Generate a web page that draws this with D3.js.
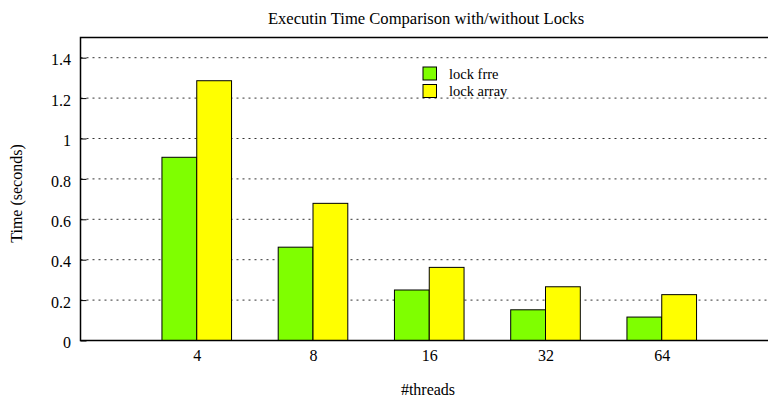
<!DOCTYPE html>
<html><head><meta charset="utf-8">
<script src="https://cdn.jsdelivr.net/npm/d3@7"></script>
<style>body{margin:0;background:#fff;}</style>
</head><body><svg id="c" width="768" height="398" font-family="Liberation Serif"></svg>
<script>
const categories = ["4", "8", "16", "32", "64"];
const lockFree = [0.907, 0.462, 0.25, 0.152, 0.116];
const lockArray = [1.286, 0.679, 0.362, 0.266, 0.227];
const seriesNames = ["lock frre", "lock array"];
const seriesColors = ["#7fff00", "#ffff00"];
const yTicks = [0, 0.2, 0.4, 0.6, 0.8, 1, 1.2, 1.4];

const FONT = "Liberation Serif";
const svg = d3.select("#c");
const L = 80.5, T = 37.5, B = 340.5, R = 778;
const x = d3.scaleLinear().domain([0, 6]).range([L, R]);
const y = d3.scaleLinear().domain([0, 1.5]).range([B, T]);
const bw = 34.8;

// grid
svg.append("g").selectAll("line").data(yTicks.filter(d => d > 0)).join("line")
  .attr("x1", L).attr("x2", 768).attr("y1", d => y(d)).attr("y2", d => y(d))
  .attr("stroke", "#333").attr("stroke-width", 1).attr("stroke-dasharray", "2,4");

// bars
const series = [lockFree, lockArray];
series.forEach((vals, si) => {
  svg.append("g").selectAll("rect").data(vals).join("rect")
    .attr("x", (d, i) => x(i + 1) - bw + si * bw)
    .attr("y", d => y(d))
    .attr("width", bw)
    .attr("height", d => B - y(d))
    .attr("fill", seriesColors[si])
    .attr("stroke", "#000").attr("stroke-width", 1);
});

// frame
svg.append("path").attr("d", `M${768},${T}H${L}V${B}H${768}`)
  .attr("fill", "none").attr("stroke", "#000").attr("stroke-width", 1.5);

// y axis
const ya = d3.axisLeft(y).tickValues(yTicks).tickFormat(d => d3.format("")(+d.toFixed(1))).tickSize(-6).tickPadding(9.5);
const yg = svg.append("g").attr("transform", `translate(${L},0)`).call(ya).attr("font-family", FONT).attr("font-size", 16);
yg.select(".domain").remove();
yg.selectAll("text").attr("fill", "#000").attr("dy", "0.45em");
yg.selectAll("line").attr("stroke", "#000");

// x axis labels
const xa = d3.axisBottom(x).tickValues([1, 2, 3, 4, 5]).tickFormat((d) => categories[d - 1]).tickSize(0).tickPadding(9);
const xg = svg.append("g").attr("transform", `translate(0,${B})`).call(xa).attr("font-family", FONT).attr("font-size", 16);
xg.select(".domain").remove();
xg.selectAll("text").attr("fill", "#000");

// title
svg.append("text").attr("x", 426).attr("y", 24).attr("text-anchor", "middle").attr("font-family", FONT)
  .attr("font-size", 16.6).text("Executin Time Comparison with/without Locks");
// axis labels
svg.append("text").attr("x", 428).attr("y", 395).attr("text-anchor", "middle").attr("font-family", FONT)
  .attr("font-size", 16).text("#threads");
svg.append("text").attr("transform", "translate(22,193.5) rotate(-90)").attr("text-anchor", "middle").attr("font-family", FONT)
  .attr("font-size", 16).text("Time (seconds)");

// legend
seriesNames.forEach((n, i) => {
  svg.append("rect").attr("x", 423).attr("y", 67 + i * 17.5).attr("width", 13.5).attr("height", 13)
    .attr("fill", seriesColors[i]).attr("stroke", "#000").attr("stroke-width", 1);
  svg.append("text").attr("x", 449).attr("y", 78.5 + i * 17.5).attr("font-family", FONT).attr("font-size", 14.5).text(n);
});
</script></body></html>
